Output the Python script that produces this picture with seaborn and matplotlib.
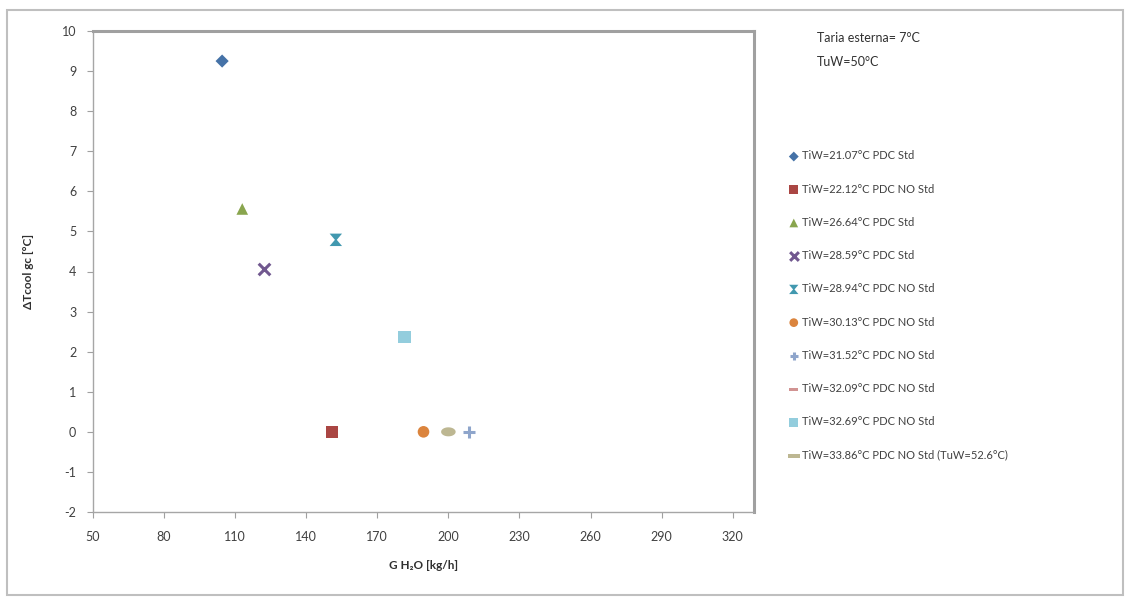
import matplotlib
matplotlib.use("Agg")
import numpy as np
import matplotlib.pyplot as plt
import seaborn as sns
from matplotlib.path import Path
from matplotlib.patches import Rectangle

# ---- data ----
labels = [
    "TiW=21.07°C PDC Std",
    "TiW=22.12°C PDC NO Std",
    "TiW=26.64°C PDC Std",
    "TiW=28.59°C PDC Std",
    "TiW=28.94°C PDC NO Std",
    "TiW=30.13°C PDC NO Std",
    "TiW=31.52°C PDC NO Std",
    "TiW=32.09°C PDC NO Std",
    "TiW=32.69°C PDC NO Std",
    "TiW=33.86°C PDC NO Std (TuW=52.6°C)",
]
g_h2o = [104.5, 151.0, 113.0, 122.0, 152.5, 189.5, 208.5, 200.0, 181.5, 200.0]
dt_cool = [9.25, 0.0, 5.56, 4.06, 4.79, 0.0, 0.0, 0.0, 2.37, 0.0]
x_ticks = [50, 80, 110, 140, 170, 200, 230, 260, 290, 320]
y_ticks = [-2, -1, 0, 1, 2, 3, 4, 5, 6, 7, 8, 9, 10]
note_lines = ["Taria esterna= 7°C", "TuW=50°C"]

# ---- styles ----
colors = ["#4572A7", "#AA4643", "#89A54E", "#71588F", "#4198AF",
          "#DB843D", "#8EA5CB", "#D19392", "#93CDDD", "#BDB792"]
hourglass = Path([(-1, 1), (1, 1), (0.15, 0), (1, -1), (-1, -1), (-0.15, 0), (-1, 1)],
                 [Path.MOVETO] + [Path.LINETO] * 5 + [Path.CLOSEPOLY])
dash = Path([(-1, -0.35), (1, -0.35), (1, 0.35), (-1, 0.35), (-1, -0.35)],
            [Path.MOVETO] + [Path.LINETO] * 3 + [Path.CLOSEPOLY])
th = np.linspace(0, 2 * np.pi, 40)
oval = Path(np.column_stack([np.cos(th), 0.62 * np.sin(th)]), closed=True)
thin_line = Path([(-0.5, -0.17), (0.5, -0.17), (0.5, 0.17), (-0.5, 0.17), (-0.5, -0.17)],
                 [Path.MOVETO] + [Path.LINETO] * 3 + [Path.CLOSEPOLY])
markers = ["D", "s", "^", "x", hourglass, "o", "+", dash, "s", oval]
sizes = [45, 80, 70, 70, 80, 70, 70, 70, 80, 110]

sns.set_theme(style="white")
plt.rcParams["font.family"] = ["Lato", "DejaVu Sans"]
plt.rcParams["axes.unicode_minus"] = False

fig = plt.figure(figsize=(11.31, 5.99), dpi=100)
fig.patch.set_facecolor("white")
ax = fig.add_axes([93 / 1131, 87 / 599, (754 - 93) / 1131, (512 - 31) / 599])

for lab, x, y, c, m, s in zip(labels, g_h2o, dt_cool, colors, markers, sizes):
    kw = dict(linewidths=2.2) if m in ("x", "+") else dict(edgecolor="none")
    sns.scatterplot(x=[x], y=[y], marker=m, color=c, s=s, label=lab, ax=ax, **kw)

ax.set_xlim(50, 329)
ax.set_ylim(-2, 10)
ax.set_xticks(x_ticks)
ax.set_yticks(y_ticks)
ax.tick_params(axis="both", labelsize=9, colors="#404040", length=4,
               direction="out", width=0.8, color="#A0A0A0")
ax.tick_params(axis="x", pad=10)
ax.tick_params(axis="y", pad=8)
for side in ("left", "bottom"):
    ax.spines[side].set_color("#A6A6A6")
    ax.spines[side].set_linewidth(1.0)
for side in ("top", "right"):
    ax.spines[side].set_color("#A0A0A0")
    ax.spines[side].set_linewidth(2.2)
ax.xaxis.set_ticks_position("bottom")
ax.yaxis.set_ticks_position("left")

ax.set_xlabel("G H₂O [kg/h]", fontsize=8.5, fontweight="bold", color="#303030",
              labelpad=12)
ax.set_ylabel("ΔTcool gc [°C]", fontsize=8.5, fontweight="bold", color="#303030",
              labelpad=20)

leg = ax.legend(loc="upper left", bbox_to_anchor=(786 / 1131, 1 - 146 / 599),
                bbox_transform=fig.transFigure, frameon=False, fontsize=8,
                labelspacing=2.0, handlelength=0.6, handletextpad=0.4,
                borderaxespad=0, markerscale=0.75)
for t in leg.get_texts():
    t.set_color("#404040")
last = leg.legend_handles[-1]
last.set_paths([thin_line])
last.set_sizes([70])

fig.text(817 / 1131, 1 - 38 / 599, note_lines[0], fontsize=9, color="#303030",
         va="center", ha="left")
fig.text(817 / 1131, 1 - 62 / 599, note_lines[1], fontsize=9, color="#303030",
         va="center", ha="left")

fig.patches.append(Rectangle((7 / 1131, 1 - 595 / 599), (1123 - 7) / 1131,
                             (595 - 10) / 599, transform=fig.transFigure,
                             fill=False, edgecolor="#BFBFBF", linewidth=1.5))

fig.savefig("out.png", dpi=100, facecolor="white")
